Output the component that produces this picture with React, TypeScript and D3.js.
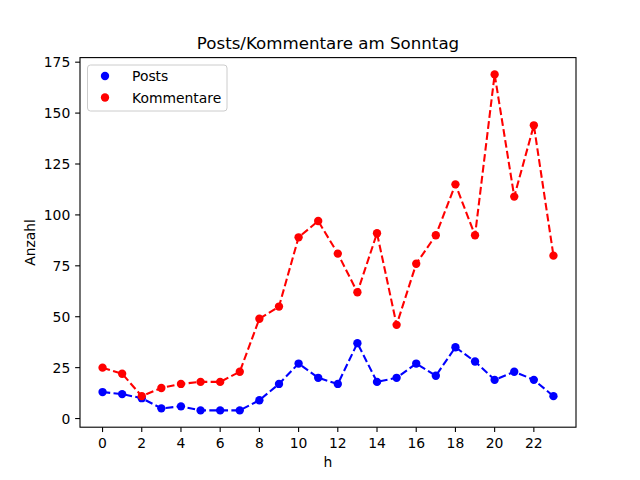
import React from "react";
import * as d3 from "d3";

const hours = d3.range(0, 24);
const posts = [13, 12, 10, 5, 6, 4, 4, 4, 9, 17, 27, 20, 17, 37, 18, 20, 27, 21, 35, 28, 19, 23, 19, 11];
const kommentare = [25, 22, 11, 15, 17, 18, 18, 23, 49, 55, 89, 97, 81, 62, 91, 46, 76, 90, 115, 90, 169, 109, 144, 80];
const xTicks = d3.range(0, 24, 2);
const yTicks = [0, 25, 50, 75, 100, 125, 150, 175];
const seriesNames = ["Posts", "Kommentare"];
const seriesColors = ["#0000ff", "#ff0000"];

const W = 640, H = 480;
const L = 80, R = 576, T = 57.6, B = 427.2;
const FONT = "DejaVu Sans, sans-serif";

export default function App() {
  const all = [...posts, ...kommentare];
  const ymin = d3.min(all)!, ymax = d3.max(all)!;
  const ypad = (ymax - ymin) * 0.05;
  const x = d3.scaleLinear().domain([-23 * 0.05, 23 * 1.05]).range([L, R]);
  const y = d3.scaleLinear().domain([ymin - ypad, ymax + ypad]).range([B, T]);
  const line = d3.line<number>().x((_, i) => x(hours[i])).y((d) => y(d));
  const series = [posts, kommentare];
  const tl = 4.86;
  return (
    <svg width={W} height={H} style={{ position: "absolute", left: 0, top: 0, background: "#fff" }} fontFamily={FONT}>
      <rect x={0} y={0} width={W} height={H} fill="#fff" />
      {series.map((s, k) => (
        <path key={"l" + k} d={line(s)!} fill="none" stroke={seriesColors[k]} strokeWidth={2.08} strokeDasharray="7.7 3.33" />
      ))}
      {series.map((s, k) =>
        s.map((v, i) => <circle key={`c${k}-${i}`} cx={x(hours[i])} cy={y(v)} r={4.17} fill={seriesColors[k]} />)
      )}
      <rect x={L} y={T} width={R - L} height={B - T} fill="none" stroke="#000" strokeWidth={1.1} />
      {xTicks.map((t) => (
        <g key={"x" + t}>
          <line x1={x(t)} x2={x(t)} y1={B} y2={B + tl} stroke="#000" strokeWidth={1.1} />
          <text x={x(t)} y={B + tl + 4.86 + 11} textAnchor="middle" fontSize={13.9} fill="#000">{t}</text>
        </g>
      ))}
      {yTicks.map((t) => (
        <g key={"y" + t}>
          <line x1={L - tl} x2={L} y1={y(t)} y2={y(t)} stroke="#000" strokeWidth={1.1} />
          <text x={L - tl - 4.86} y={y(t)} dy="0.36em" textAnchor="end" fontSize={13.9} fill="#000">{t}</text>
        </g>
      ))}
      <text x={(L + R) / 2} y={49.3} textAnchor="middle" fontSize={16.67} fill="#000">Posts/Kommentare am Sonntag</text>
      <text x={(L + R) / 2} y={467} textAnchor="middle" fontSize={13.9} fill="#000">h</text>
      <text transform={`translate(35,${(T + B) / 2}) rotate(-90)`} textAnchor="middle" fontSize={13.9} fill="#000">Anzahl</text>
      <rect x={87.5} y={65} width={139.5} height={46} rx={3} fill="#fff" fillOpacity={0.8} stroke="#cccccc" strokeWidth={1} />
      {seriesNames.map((n, k) => (
        <g key={"lg" + k}>
          <circle cx={105} cy={76 + k * 21.5} r={4.17} fill={seriesColors[k]} />
          <text x={132} y={76 + k * 21.5} dy="0.36em" fontSize={13.9} fill="#000">{n}</text>
        </g>
      ))}
    </svg>
  );
}
